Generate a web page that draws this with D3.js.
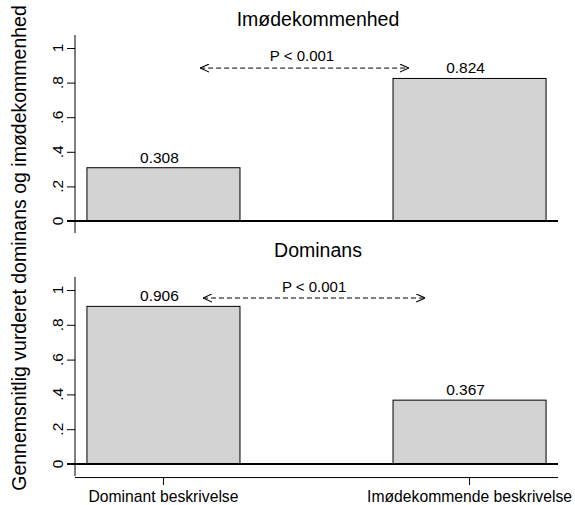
<!DOCTYPE html>
<html>
<head>
<meta charset="utf-8">
<script src="https://cdn.jsdelivr.net/npm/d3@7"></script>
<style>
  html, body { margin: 0; padding: 0; background: #fff; }
  svg { display: block; }
  text { font-family: "Liberation Sans", Arial, Helvetica, sans-serif; fill: #000; }
</style>
</head>
<body>
<svg id="chart" width="575" height="505"></svg>
<script>
// ---- data ----
const categories = ["Dominant beskrivelse", "Imødekommende beskrivelse"];
const panelTitles = ["Imødekommenhed", "Dominans"];
const imodekommenhedValues = [0.308, 0.824];
const dominansValues = [0.906, 0.367];
const yTicks = [0, 0.2, 0.4, 0.6, 0.8, 1];
const yTickLabels = ["0", ".2", ".4", ".6", ".8", "1"];
const pLabels = ["P < 0.001", "P < 0.001"];
// annotation arrows: [from, to] along the plot width (0..1), height in y units
const arrowFrom = [0.259, 0.265];
const arrowTo = [0.691, 0.725];
const arrowY = [0.884, 0.954];
const pLabelX = [0.470, 0.495];
const pLabelY = [0.927, 0.989];
const yAxisTitle = "Gennemsnitlig vurderet dominans og imødekommenhed";

// ---- layout ----
const svg = d3.select("#chart");
svg.append("rect").attr("width", 575).attr("height", 505).attr("fill", "#fff");
const plotLeft = 75, plotRight = 558;
const panels = [
  { values: imodekommenhedValues, y0: 221, y1: 48, titleY: 26 },
  { values: dominansValues, y0: 464, y1: 290, titleY: 257 }
];

const x = d3.scaleBand().domain(categories).range([plotLeft, plotRight])
  .paddingInner(0.5).paddingOuter(0.039);
const xr = d3.scaleLinear().domain([0, 1]).range([plotLeft, plotRight]);

// arrow marker
const defs = svg.append("defs");
defs.append("marker").attr("id", "chev")
  .attr("viewBox", "0 0 10 10").attr("refX", 10).attr("refY", 5)
  .attr("markerWidth", 9).attr("markerHeight", 9).attr("markerUnits", "userSpaceOnUse")
  .attr("orient", "auto-start-reverse")
  .append("path").attr("d", "M0,0.5 L10,5 L0,9.5")
  .attr("fill", "none").attr("stroke", "#000").attr("stroke-width", 1.2);

panels.forEach((p, i) => {
  const y = d3.scaleLinear().domain([0, 1]).range([p.y0, p.y1]);
  const g = svg.append("g");

  // title
  g.append("text").attr("x", 318).attr("y", p.titleY)
    .attr("text-anchor", "middle").attr("font-size", 19.5).text(panelTitles[i]);

  // bars
  g.selectAll("rect.bar").data(p.values).join("rect")
    .attr("class", "bar")
    .attr("x", (d, j) => x(categories[j]))
    .attr("width", x.bandwidth())
    .attr("y", d => y(d))
    .attr("height", d => y(0) - y(d))
    .attr("fill", "#d3d3d3").attr("stroke", "#000").attr("stroke-width", 1);

  // value labels
  g.selectAll("text.val").data(p.values).join("text")
    .attr("class", "val")
    .attr("x", (d, j) => x(categories[j]) + x.bandwidth() / 2 - 4)
    .attr("y", d => y(d) - 5)
    .attr("text-anchor", "middle").attr("font-size", 15.5)
    .text(d => d3.format(".3f")(d));

  // y axis line
  g.append("line").attr("x1", plotLeft).attr("x2", plotLeft)
    .attr("y1", y(-0.07)).attr("y2", y(1.075))
    .attr("stroke", "#000").attr("stroke-width", 1);

  // ticks
  const yAxis = d3.axisLeft(y).tickValues(yTicks).tickSize(8).tickFormat("");
  const ag = g.append("g").attr("transform", `translate(${plotLeft},0)`).call(yAxis);
  ag.select(".domain").remove();
  ag.selectAll(".tick line").attr("stroke", "#000").attr("stroke-width", 1);

  // rotated tick labels
  g.selectAll("text.ytl").data(yTicks).join("text")
    .attr("class", "ytl")
    .attr("transform", d => `translate(63,${y(d)}) rotate(-90)`)
    .attr("text-anchor", "middle").attr("font-size", 15.5)
    .text((d, j) => yTickLabels[j]);

  // baseline
  g.append("line").attr("x1", plotLeft - 8).attr("x2", plotRight)
    .attr("y1", y(0)).attr("y2", y(0))
    .attr("stroke", "#000").attr("stroke-width", 2);

  // p arrow
  g.append("line")
    .attr("x1", xr(arrowFrom[i])).attr("x2", xr(arrowTo[i]))
    .attr("y1", y(arrowY[i])).attr("y2", y(arrowY[i]))
    .attr("stroke", "#000").attr("stroke-width", 1)
    .attr("stroke-dasharray", "5,3")
    .attr("marker-start", "url(#chev)").attr("marker-end", "url(#chev)");
  g.append("text").attr("x", xr(pLabelX[i])).attr("y", y(pLabelY[i]))
    .attr("text-anchor", "middle").attr("font-size", 15).text(pLabels[i]);

  // x axis on bottom panel
  if (i === panels.length - 1) {
    const axisY = y(-0.075);
    const xAxis = d3.axisBottom(x).tickSize(8).tickSizeOuter(0);
    const xg = g.append("g").attr("transform", `translate(0,${axisY})`).call(xAxis);
    xg.select(".domain").attr("stroke", "#000").attr("d", `M${plotLeft},0.5H${plotRight}`);
    xg.selectAll(".tick line").attr("stroke", "#000");
    xg.selectAll(".tick text").attr("font-size", 15.7).attr("dy", 0).attr("y", 25)
      .attr("font-family", "Liberation Sans, Arial, sans-serif").attr("fill", "#000");
  }
});

// y axis title
svg.append("text")
  .attr("transform", "translate(26,248) rotate(-90)")
  .attr("text-anchor", "middle").attr("font-size", 19.5)
  .text(yAxisTitle);
</script>
</body>
</html>
